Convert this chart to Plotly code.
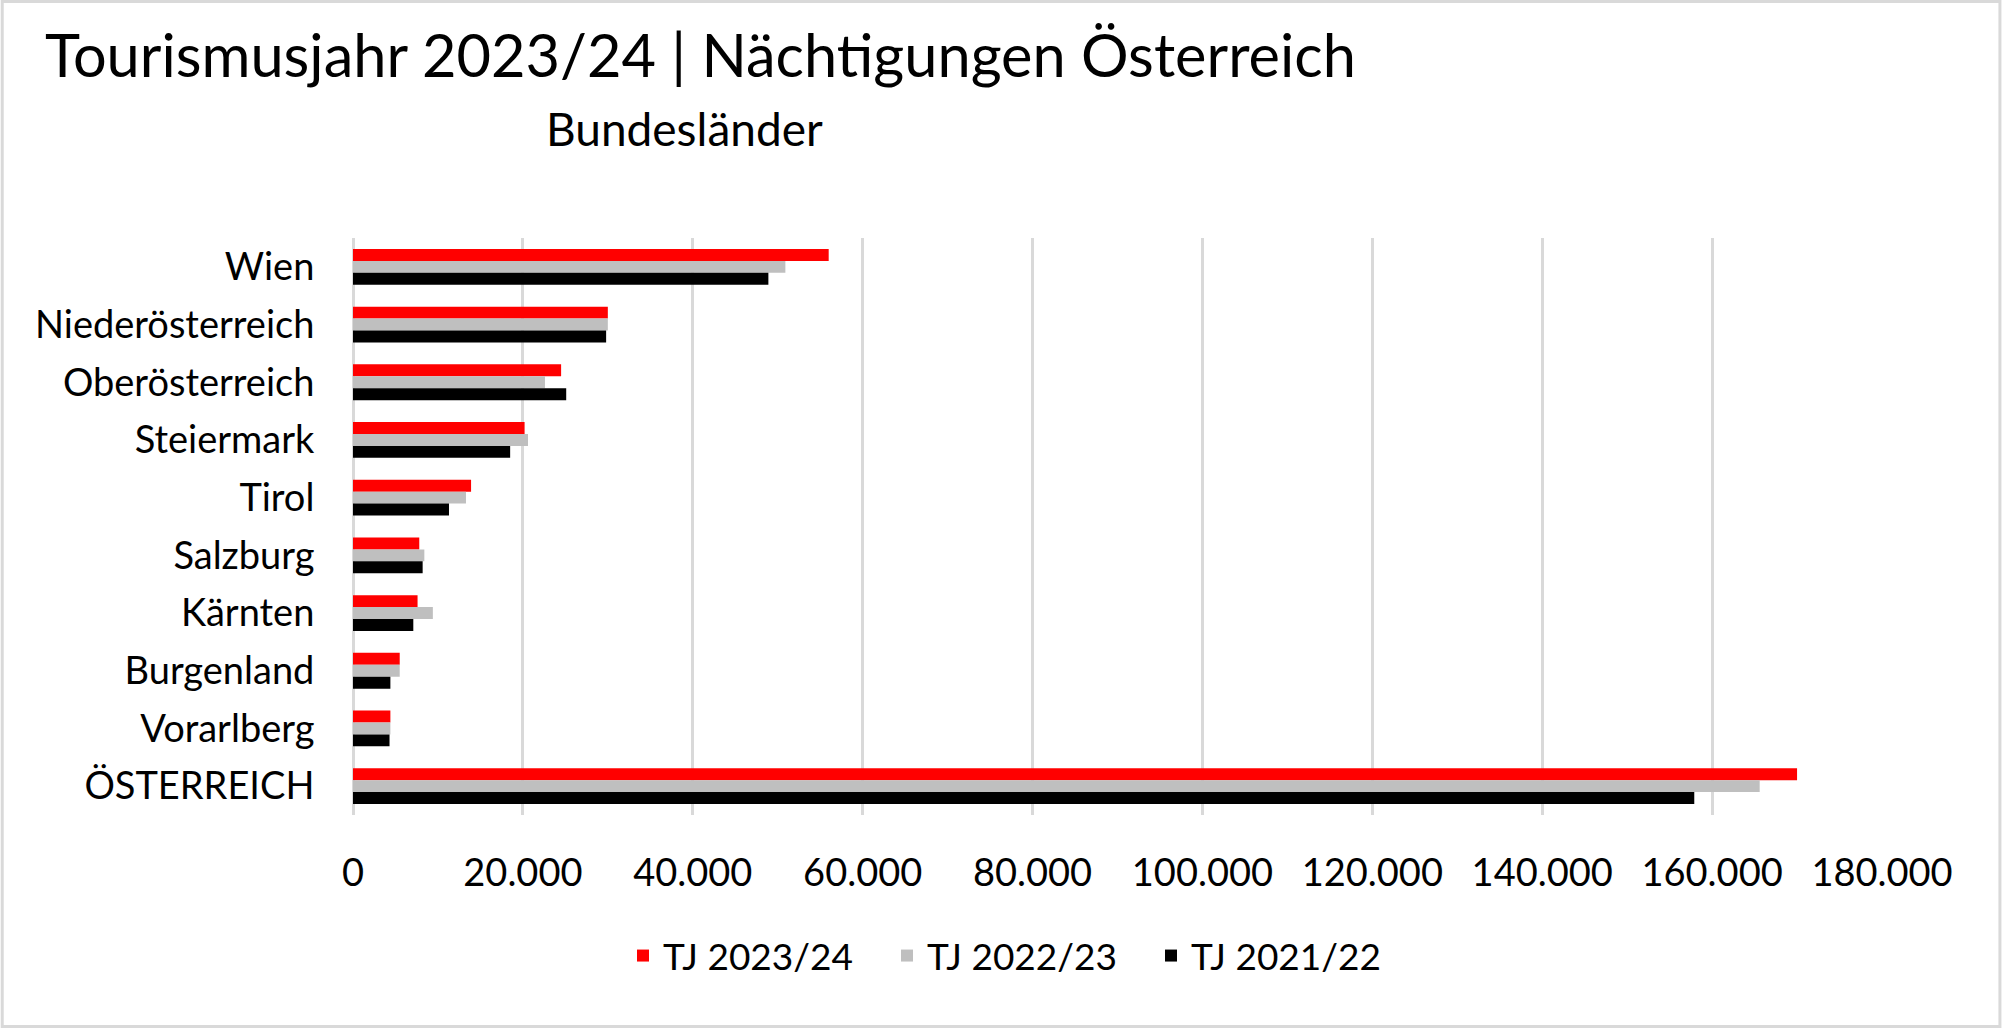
import plotly.graph_objects as go

# ---- data ----
categories = ["Wien", "Niederösterreich", "Oberösterreich", "Steiermark", "Tirol",
              "Salzburg", "Kärnten", "Burgenland", "Vorarlberg", "ÖSTERREICH"]
tj_2023_24 = [56000, 30000, 24500, 20200, 13900, 7800, 7600, 5500, 4400, 170000]
tj_2022_23 = [50900, 30000, 22600, 20600, 13300, 8400, 9400, 5500, 4400, 165600]
tj_2021_22 = [48900, 29800, 25100, 18500, 11300, 8200, 7100, 4400, 4300, 157900]
series_names = ["TJ 2023/24", "TJ 2022/23", "TJ 2021/22"]
x_ticks = [0, 20000, 40000, 60000, 80000, 100000, 120000, 140000, 160000, 180000]

W, H = 2002, 1028
L, R, T, B = 352.5, 1882.5, 238, 815
FONT = "Lato"

def px(x):
    return (x - L) / (R - L)

def py(y):
    return (B - y) / (B - T)

colors = ["#ff0000", "#bfbfbf", "#000000"]
fig = go.Figure()
for name, vals, c in zip(series_names, [tj_2023_24, tj_2022_23, tj_2021_22], colors):
    fig.add_trace(go.Bar(y=categories, x=vals, name=name, orientation="h",
                         marker=dict(color=c, line=dict(width=0))))

fig.update_layout(
    width=W, height=H,
    margin=dict(l=L, r=W - R, t=T, b=H - B, autoexpand=False),
    barmode="group", bargap=0.38, bargroupgap=0,
    paper_bgcolor="white", plot_bgcolor="white",
    separators=",.",
    font=dict(family=FONT, color="#000000", size=38),
    showlegend=True,
    legend=dict(orientation="h", xref="container", x=0.509, xanchor="center",
                yref="container", y=(H - 956) / H, yanchor="middle",
                font=dict(size=37, family=FONT), entrywidth=219,
                itemwidth=30, traceorder="normal"),
    xaxis=dict(range=[0, 180000], tickvals=x_ticks, tickformat=",.0f",
               automargin=False,
               showgrid=True, gridcolor="#d9d9d9", gridwidth=2.5,
               zeroline=True, zerolinecolor="#d9d9d9", zerolinewidth=2.5,
               showline=False, ticks="outside", ticklen=24,
               tickcolor="rgba(0,0,0,0)", tickfont=dict(size=38)),
    yaxis=dict(autorange="reversed", showgrid=False, showline=False,
               automargin=False,
               ticks="outside", ticklen=30, tickcolor="rgba(0,0,0,0)",
               tickfont=dict(size=38)),
    annotations=[
        dict(text="Tourismusjahr 2023/24 | Nächtigungen Österreich",
             xref="paper", yref="paper", x=px(42), y=py(54),
             xanchor="left", yanchor="middle", showarrow=False,
             font=dict(size=59.5, family=FONT)),
        dict(text="Bundesländer", xref="paper", yref="paper",
             x=px(684), y=py(128), xanchor="center", yanchor="middle",
             showarrow=False, font=dict(size=46, family=FONT)),
    ],
    shapes=[dict(type="rect", xref="paper", yref="paper",
                 x0=px(1.5), x1=px(W - 1.5), y0=py(1.5), y1=py(H - 1.5),
                 line=dict(color="#d9d9d9", width=3), fillcolor="rgba(0,0,0,0)",
                 layer="below")],
)

fig.write_html("out.html", config={"displayModeBar": False},
               post_script="document.body.style.margin='0';")
